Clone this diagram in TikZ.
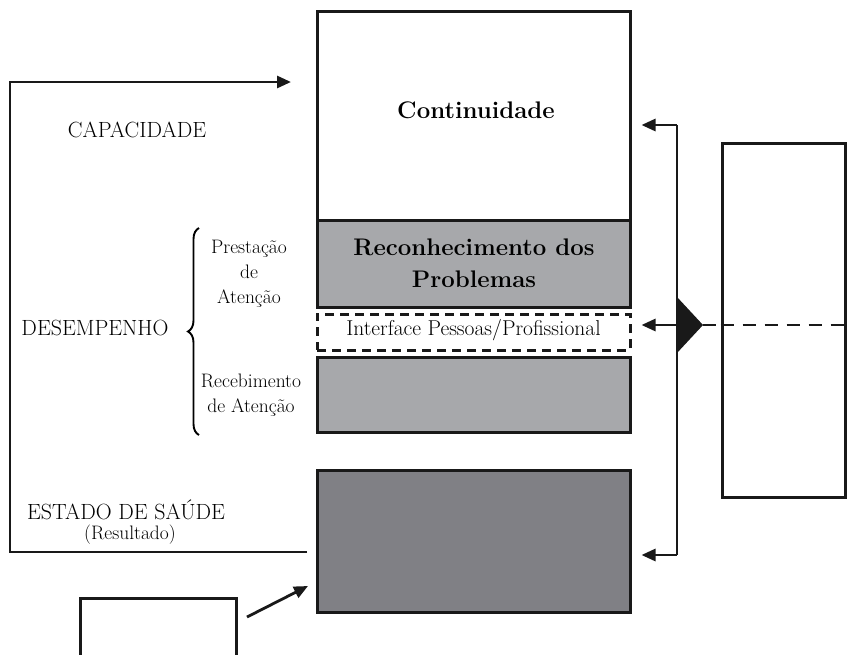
\documentclass[tikz,border=0pt]{standalone}
\usepackage{fontspec}
\setmainfont{Latin Modern Roman}
\usetikzlibrary{arrows.meta,decorations.pathreplacing}
\definecolor{lgray}{HTML}{A7A8AB}
\definecolor{dgray}{HTML}{808085}
\begin{document}
\begin{tikzpicture}[x=1pt,y=-1pt,
  box/.style={draw=black!90,line width=3pt,rectangle,inner sep=0pt},
  arr/.style={line width=2.8pt,draw=black!90,-{Triangle[length=14pt,width=12pt]}},
  lbl/.style={font=\fontsize{22}{24}\selectfont,align=center,inner sep=0pt},
  sml/.style={font=\fontsize{19.5}{25}\selectfont,align=center,inner sep=0pt},
  big/.style={font=\fontsize{24}{32}\selectfont\bfseries,align=center,inner sep=0pt}]
\clip (0,0) rectangle (851,654);
\fill[white] (0,0) rectangle (851,654);
% central stack
\node[box,fill=white,minimum width=313pt,minimum height=209pt] (cont) at (473.5,115.5) {};
\node[big] (contt) at (476,110) {Continuidade};
\node[box,fill=lgray,minimum width=313pt,minimum height=87pt] (rec) at (473.5,263.5) {};
\node[big] (rect) at (474,263) {Reconhecimento dos\\Problemas};
\node[box,dash pattern=on 9pt off 6pt,minimum width=313pt,minimum height=36pt] (intf) at (473.5,332) {};
\node[sml,font=\fontsize{21.5}{25}\selectfont] (intft) at (473.5,330) {Interface Pessoas/Profissional};
\node[box,fill=lgray,minimum width=313pt,minimum height=75pt] (receb) at (473.5,394.5) {};
\node[box,fill=dgray,minimum width=313pt,minimum height=142pt] (saude) at (473.5,541) {};
% right box
\node[box,minimum width=123pt,minimum height=354pt] (rbox) at (783.5,320) {};
% bottom-left box
\node[box,minimum width=156pt,minimum height=90pt] (low) at (158,643) {};
% left labels
\node[lbl] (cap) at (137,130) {CAPACIDADE};
\node[lbl] (des) at (95,328) {DESEMPENHO};
\node[lbl] (est) at (126,510) {ESTADO DE SAÚDE};
\node[sml] (res) at (130,535) {(Resultado)};
\node[sml] (prest) at (249,274) {Prestação\\de\\Atenção};
\node[sml] (recb) at (251,395) {Recebimento\\de Atenção};
% brace
\coordinate (b1) at (199,435);
\coordinate (b2) at (199,228);
\draw[line width=1.9pt,decorate,decoration={brace,amplitude=11pt}] (b1) -- (b2);
% left feedback loop
\coordinate (l0) at (307,552);
\coordinate (l1) at (10,552);
\coordinate (l2) at (10,82);
\coordinate (l3) at (291,82);
\draw[arr] (l0) -- (l1) -- (l2) -- (l3);
% right connectors
\coordinate (vt) at (677,125);
\coordinate (vm) at (677,325);
\coordinate (vb) at (677,555);
\coordinate (tip) at (703,325);
\draw[line width=2.8pt,black!90] (vt) -- (vb);
\draw[arr] (vt) -- ([xshift=10pt]cont.east |- vt);
\draw[arr] (vm) -- ([xshift=10pt]intf.east |- vm);
\draw[arr] (vb) -- ([xshift=10pt]saude.east |- vb);
\fill[black!90] (677,297) -- (tip) -- (677,353) -- cycle;
\draw[line width=2.8pt,black!90,dash pattern=on 13pt off 9pt] (tip) -- ([xshift=6pt]rbox.west |- tip) (rbox.west |- tip) -- (851,325);
% bottom arrow
\coordinate (a0) at (247,617);
\coordinate (a1) at (308,586);
\draw[arr] (a0) -- (a1);
\end{tikzpicture}
\end{document}
